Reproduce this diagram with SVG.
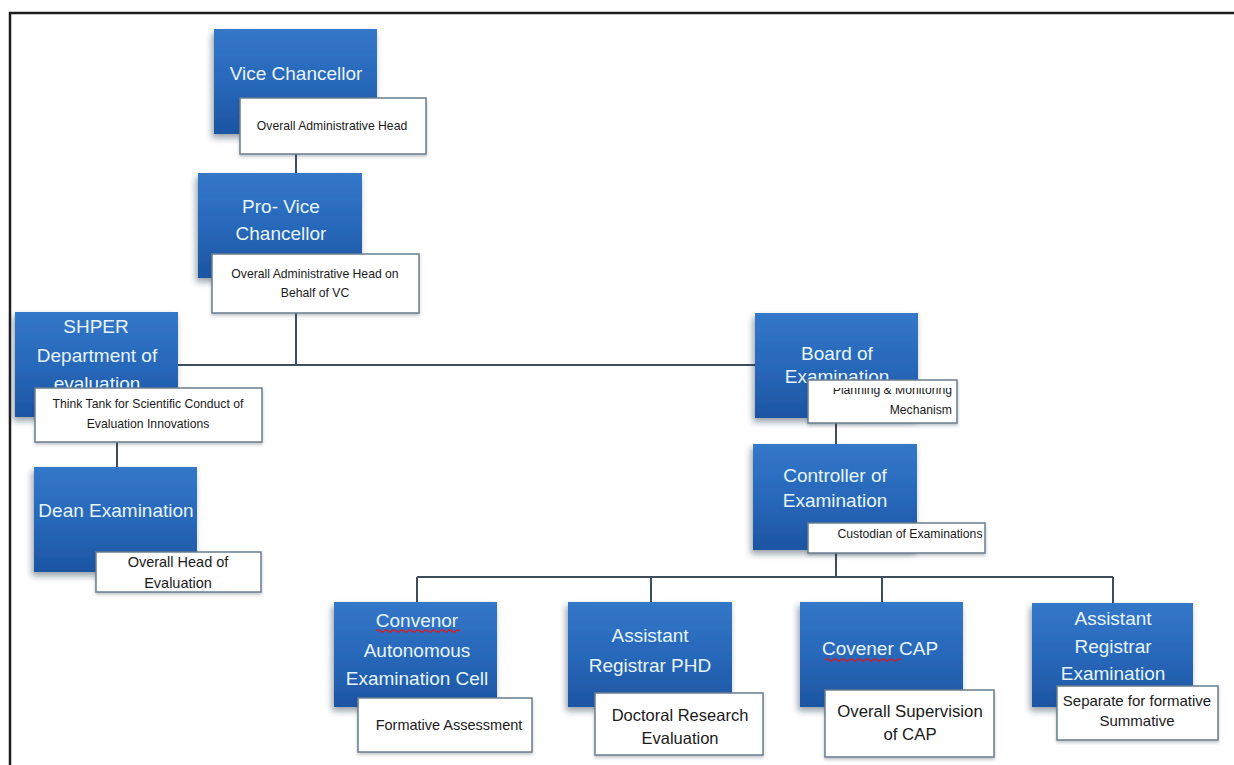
<svg xmlns="http://www.w3.org/2000/svg" width="1234" height="765" viewBox="0 0 1234 765">
  <defs>
    <linearGradient id="blueFill" x1="0" y1="0" x2="0" y2="1">
      <stop offset="0" stop-color="#3477c9"/>
      <stop offset="0.55" stop-color="#2766b8"/>
      <stop offset="1" stop-color="#1c55a2"/>
    </linearGradient>
    <filter id="boxShadow" x="-15%" y="-15%" width="135%" height="140%">
      <feDropShadow dx="-2" dy="4" stdDeviation="3" flood-color="#1a2a40" flood-opacity="0.45"/>
    </filter>
    <filter id="noteShadow" x="-10%" y="-15%" width="125%" height="140%">
      <feDropShadow dx="0" dy="2" stdDeviation="1.5" flood-color="#33404d" flood-opacity="0.3"/>
    </filter>
    <clipPath id="boardNoteClip">
      <rect x="808" y="388" width="149" height="35"/>
    </clipPath>
  </defs>
  <style>
    .role { fill: url(#blueFill); filter: url(#boxShadow); }
    .note { fill: #ffffff; stroke: #6a7d8f; stroke-width: 1.5; filter: url(#noteShadow); }
    .title { font-family: "Liberation Sans", Arial, sans-serif; font-size: 19px; fill: #e6f5fc; text-anchor: middle; }
    .sub { font-family: "Liberation Sans", Arial, sans-serif; font-size: 12.2px; fill: #1a1a1a; text-anchor: middle; }
    .link { fill: none; stroke: #3e4d5c; stroke-width: 2; }
    .squiggle { fill: none; stroke: #d21f2a; stroke-width: 1.3; }
    .frame { fill: none; stroke: #1e1e1e; stroke-width: 2.5; }
  </style>

  <rect width="1234" height="765" fill="#ffffff"/>
  <!-- page frame -->
  <path class="frame" d="M10 765 V13 H1234"/>

  <!-- connectors -->
  <g id="connectors">
    <path class="link" d="M296 154 V173"/>
    <path class="link" d="M296 313 V365"/>
    <path class="link" d="M178 365 H755"/>
    <path class="link" d="M117 442 V467"/>
    <path class="link" d="M836 423 V444"/>
    <path class="link" d="M836 553 V577"/>
    <path class="link" d="M417 577 H1113"/>
    <path class="link" d="M417 577 V602"/>
    <path class="link" d="M651 577 V602"/>
    <path class="link" d="M882 577 V602"/>
    <path class="link" d="M1113 577 V603"/>
  </g>

  <g id="vice-chancellor">
    <rect class="role" x="214" y="29" width="163" height="105"/>
    <text class="title" x="296" y="80">Vice Chancellor</text>
    <rect class="note" x="240" y="98" width="186" height="56"/>
    <text class="sub" x="332" y="130">Overall Administrative Head</text>
  </g>

  <g id="pro-vice-chancellor">
    <rect class="role" x="198" y="173" width="164" height="105"/>
    <text class="title" x="281" y="213">Pro- Vice</text>
    <text class="title" x="281" y="240">Chancellor</text>
    <rect class="note" x="212" y="254" width="207" height="59"/>
    <text class="sub" x="315" y="278">Overall Administrative Head on</text>
    <text class="sub" x="315" y="297">Behalf of VC</text>
  </g>

  <g id="shper">
    <rect class="role" x="15" y="312" width="163" height="105"/>
    <text class="title" x="96" y="333">SHPER</text>
    <text class="title" x="97" y="362">Department of</text>
    <text class="title" x="97" y="390">evaluation</text>
    <rect class="note" x="35" y="388" width="227" height="54"/>
    <text class="sub" x="148" y="408">Think Tank for Scientific Conduct of</text>
    <text class="sub" x="148" y="428">Evaluation Innovations</text>
  </g>

  <g id="dean-examination">
    <rect class="role" x="34" y="467" width="163" height="105"/>
    <text class="title" x="116" y="517">Dean Examination</text>
    <rect class="note" x="96" y="552" width="165" height="40"/>
    <text class="sub" x="178" y="567" style="font-size:14.5px">Overall Head of</text>
    <text class="sub" x="178" y="588" style="font-size:14.5px">Evaluation</text>
  </g>

  <g id="board-of-examination">
    <rect class="role" x="755" y="313" width="163" height="105"/>
    <text class="title" x="837" y="360">Board of</text>
    <text class="title" x="837" y="383">Examination</text>
    <rect class="note" x="808" y="380" width="149" height="43"/>
    <!-- first line of the note is cut off by the top of its frame -->
    <g clip-path="url(#boardNoteClip)">
      <text class="sub" x="952" y="394" style="text-anchor:end">Planning &amp; Monitoring</text>
      <text class="sub" x="952" y="414" style="text-anchor:end">Mechanism</text>
    </g>
  </g>

  <g id="controller-of-examination">
    <rect class="role" x="753" y="444" width="164" height="106"/>
    <text class="title" x="835" y="482">Controller of</text>
    <text class="title" x="835" y="507">Examination</text>
    <rect class="note" x="808" y="523" width="177" height="30"/>
    <text class="sub" x="910" y="538">Custodian of Examinations</text>
  </g>

  <g id="convenor-autonomous-cell">
    <rect class="role" x="334" y="602" width="163" height="105"/>
    <text class="title" x="417" y="627">Convenor</text>
    <path class="squiggle" d="M376 631 q2 -2 4 0 t4 0 t4 0 t4 0 t4 0 t4 0 t4 0 t4 0 t4 0 t4 0 t4 0 t4 0 t4 0 t4 0 t4 0 t4 0 t4 0 t4 0 t4 0 t4 0 t4 0"/>
    <text class="title" x="417" y="657">Autonomous</text>
    <text class="title" x="417" y="685">Examination Cell</text>
    <rect class="note" x="358" y="698" width="174" height="54"/>
    <text class="sub" x="449" y="730" style="font-size:14.5px">Formative Assessment</text>
  </g>

  <g id="assistant-registrar-phd">
    <rect class="role" x="568" y="602" width="164" height="105"/>
    <text class="title" x="650" y="642">Assistant</text>
    <text class="title" x="650" y="672">Registrar PHD</text>
    <rect class="note" x="595" y="693" width="168" height="62"/>
    <text class="sub" x="680" y="721" style="font-size:16.5px">Doctoral Research</text>
    <text class="sub" x="680" y="744" style="font-size:16.5px">Evaluation</text>
  </g>

  <g id="covener-cap">
    <rect class="role" x="800" y="602" width="163" height="105"/>
    <text class="title" x="880" y="655">Covener CAP</text>
    <path class="squiggle" d="M825 660 q2 -2 4 0 t4 0 t4 0 t4 0 t4 0 t4 0 t4 0 t4 0 t4 0 t4 0 t4 0 t4 0 t4 0 t4 0 t4 0 t4 0 t4 0 t4 0 t4 0"/>
    <rect class="note" x="825" y="690" width="169" height="67"/>
    <text class="sub" x="910" y="717" style="font-size:16.8px">Overall Supervision</text>
    <text class="sub" x="910" y="740" style="font-size:16.8px">of CAP</text>
  </g>

  <g id="assistant-registrar-examination">
    <rect class="role" x="1032" y="603" width="161" height="104"/>
    <text class="title" x="1113" y="625">Assistant</text>
    <text class="title" x="1113" y="653">Registrar</text>
    <text class="title" x="1113" y="680">Examination</text>
    <rect class="note" x="1057" y="686" width="161" height="54"/>
    <text class="sub" x="1137" y="706" style="font-size:15px">Separate for formative</text>
    <text class="sub" x="1137" y="726" style="font-size:15px">Summative</text>
  </g>
</svg>
